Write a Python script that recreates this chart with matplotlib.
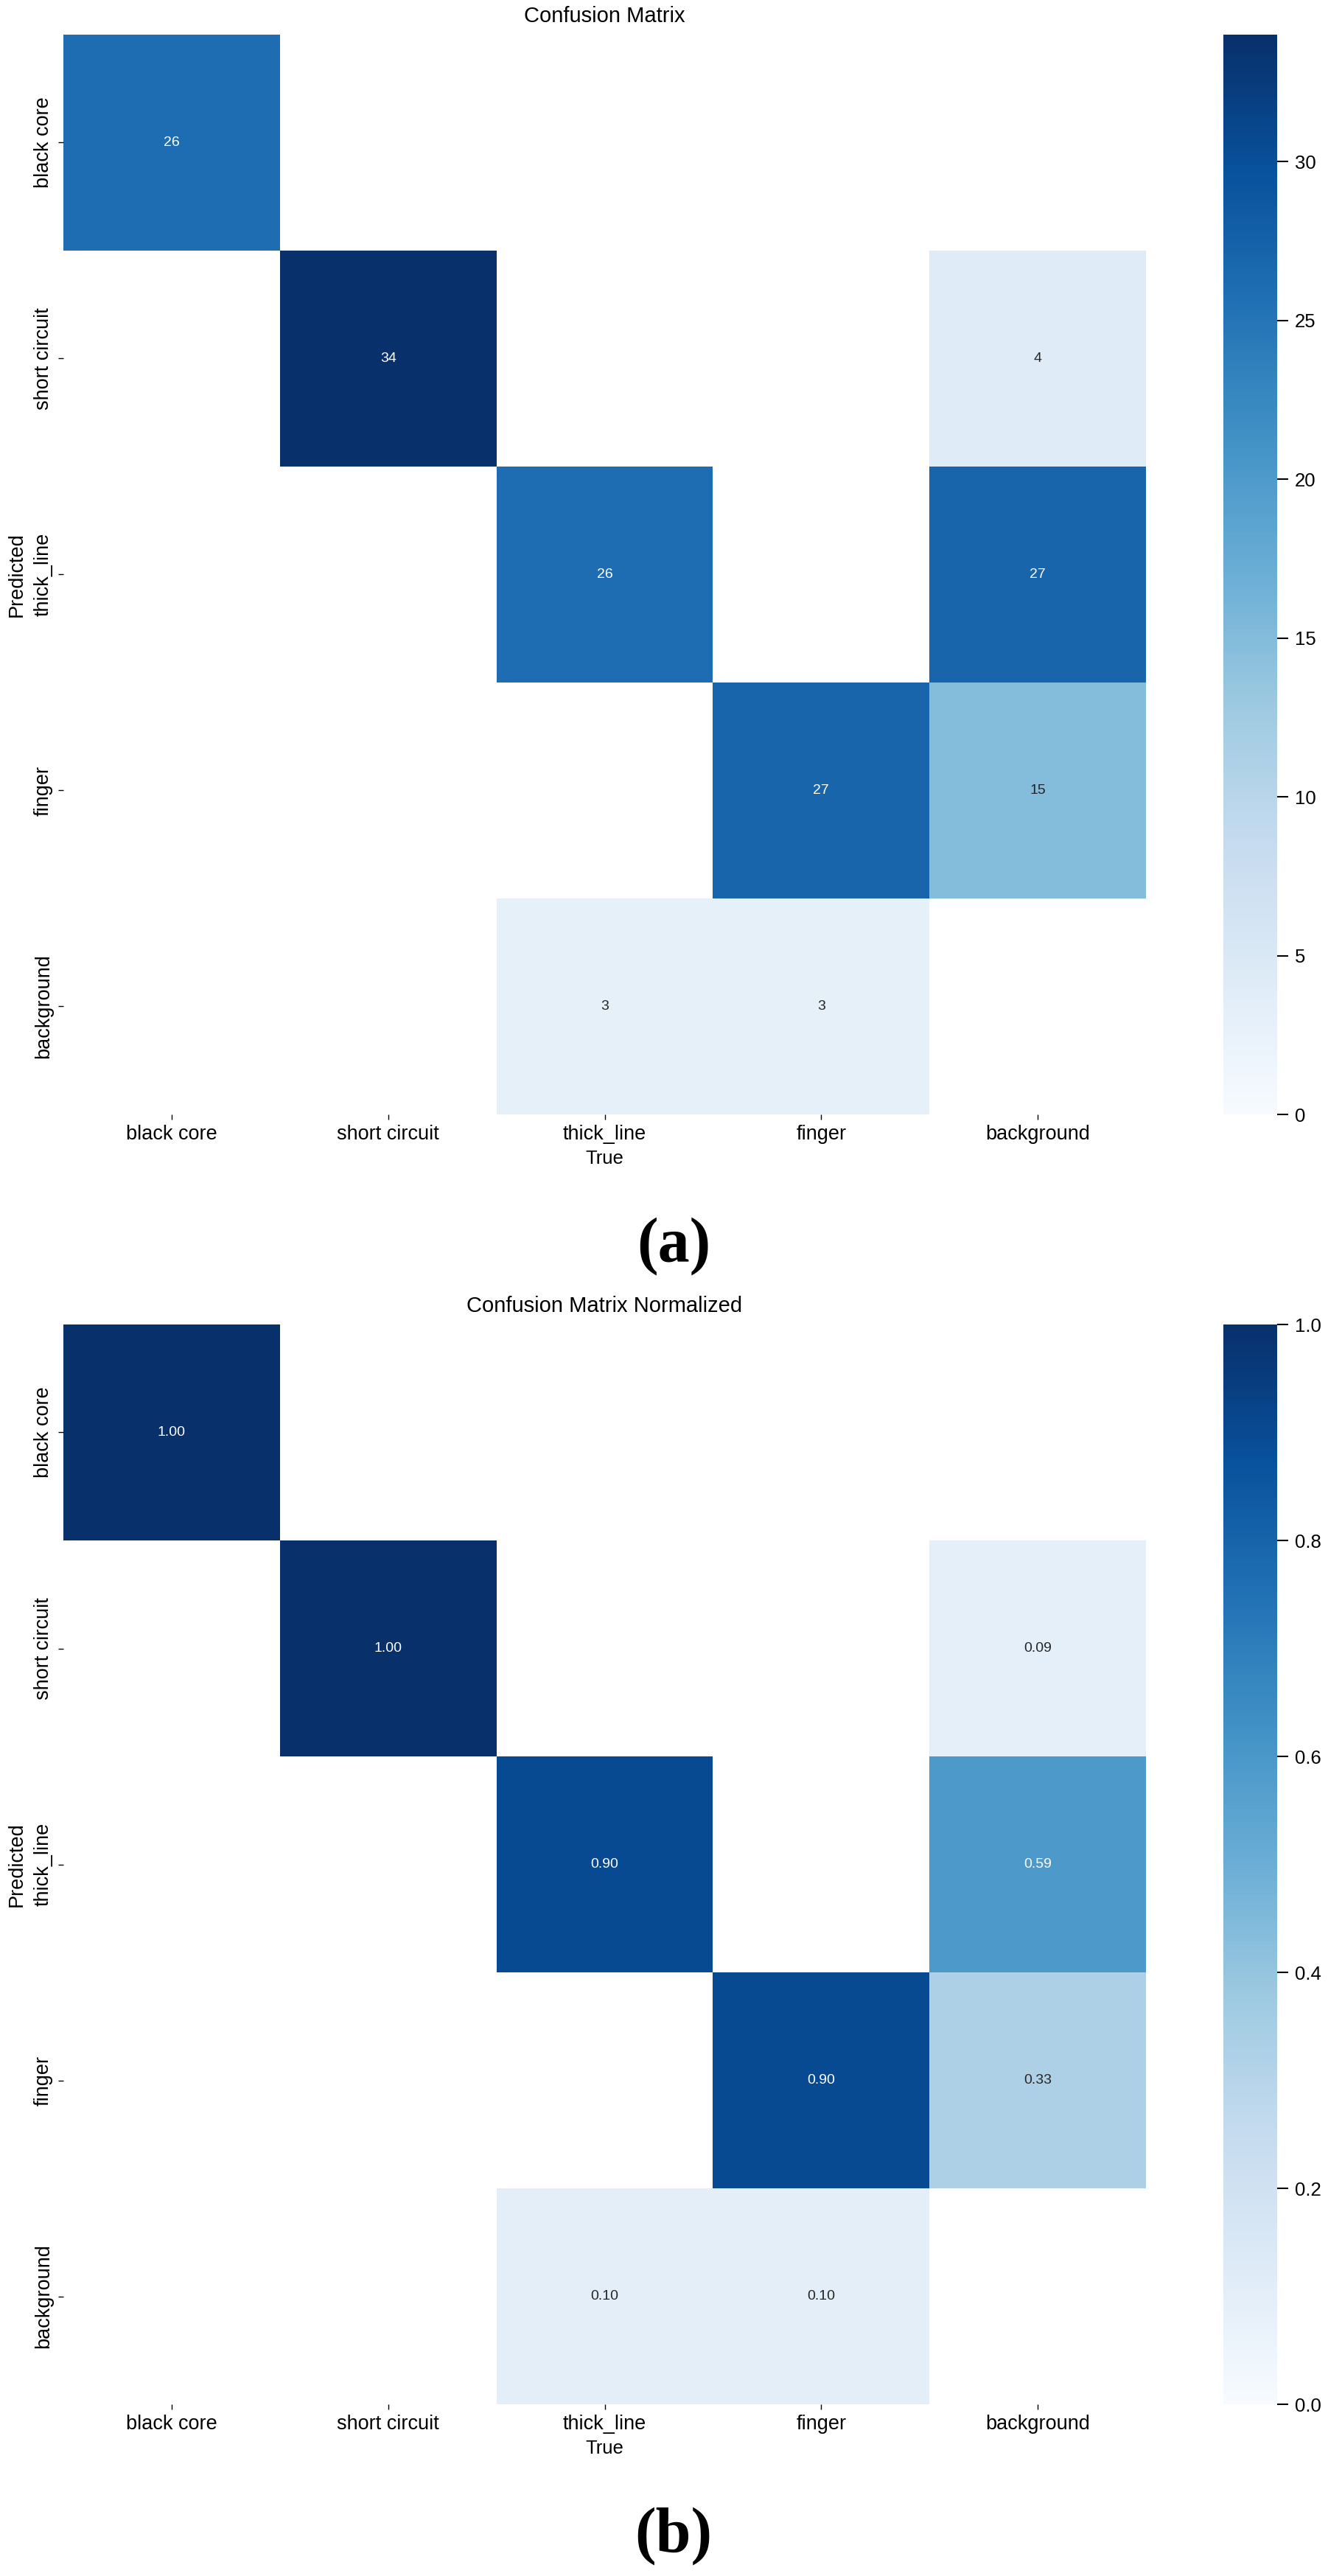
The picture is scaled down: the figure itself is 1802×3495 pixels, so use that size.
import numpy as np
import matplotlib
matplotlib.use("Agg")
import matplotlib.pyplot as plt
import seaborn as sns

plt.rcParams['font.family'] = ['Liberation Sans', 'DejaVu Sans']

# class names (rows = predicted, columns = true)
classes = ['black core', 'short circuit', 'thick_line', 'finger', 'background']

# counts; empty cells are NaN (drawn white)
counts = np.array([
    [26, np.nan, np.nan, np.nan, np.nan],
    [np.nan, 34, np.nan, np.nan, 4],
    [np.nan, np.nan, 26, np.nan, 27],
    [np.nan, np.nan, np.nan, 27, 15],
    [np.nan, np.nan, 3, 3, np.nan],
])

# normalized values
normalized = np.array([
    [1.00, np.nan, np.nan, np.nan, np.nan],
    [np.nan, 1.00, np.nan, np.nan, 0.09],
    [np.nan, np.nan, 0.90, np.nan, 0.59],
    [np.nan, np.nan, np.nan, 0.90, 0.33],
    [np.nan, np.nan, 0.10, 0.10, np.nan],
])

W, H = 1802, 3495
fig = plt.figure(figsize=(W / 100, H / 100), dpi=100)


def px_axes(x0, y0, x1, y1):
    return fig.add_axes([x0 / W, 1 - y1 / H, (x1 - x0) / W, (y1 - y0) / H])


def draw_panel(data, title, fmt, vmax, cticks, cfmt, y_off, caption):
    ax = px_axes(86, 47 + y_off, 1555, 1512 + y_off)
    cax = px_axes(1660, 47 + y_off, 1733, 1512 + y_off)
    sns.heatmap(data, ax=ax, cbar_ax=cax, cmap='Blues', vmin=0.0, vmax=vmax,
                annot=True, fmt=fmt, annot_kws={'size': 14},
                xticklabels=classes, yticklabels=classes, square=False)
    ax.set_facecolor('white')
    ax.set_title(title, fontsize=21, pad=12)
    ax.set_xlabel('True', fontsize=18.5)
    ax.set_ylabel('Predicted', fontsize=19.5)
    ax.xaxis.set_label_coords(0.5, -0.033)
    ax.yaxis.set_label_coords(-0.034, 0.5)
    ax.tick_params(axis='both', labelsize=19.5, length=5, width=1, pad=5)
    plt.setp(ax.get_xticklabels(), rotation=0)
    plt.setp(ax.get_yticklabels(), rotation=90, va='center')
    cax.set_yticks(cticks)
    cax.set_yticklabels([cfmt.format(t) for t in cticks])
    cax.tick_params(labelsize=18.5, length=11, width=1.5, pad=6)
    fig.text(914 / W, 1 - (1691 + y_off) / H, caption, ha='center', va='center',
             fontsize=62, fontweight='bold',
             family=['Liberation Serif', 'DejaVu Serif'])


draw_panel(counts, 'Confusion Matrix', '.0f', 34, [0, 5, 10, 15, 20, 25, 30], '{:d}', 0, '(a)')
draw_panel(normalized, 'Confusion Matrix Normalized', '.2f', 1.0,
           [0.0, 0.2, 0.4, 0.6, 0.8, 1.0], '{:.1f}', 1750, '(b)')

fig.savefig('out.png', dpi=100, facecolor='white')
